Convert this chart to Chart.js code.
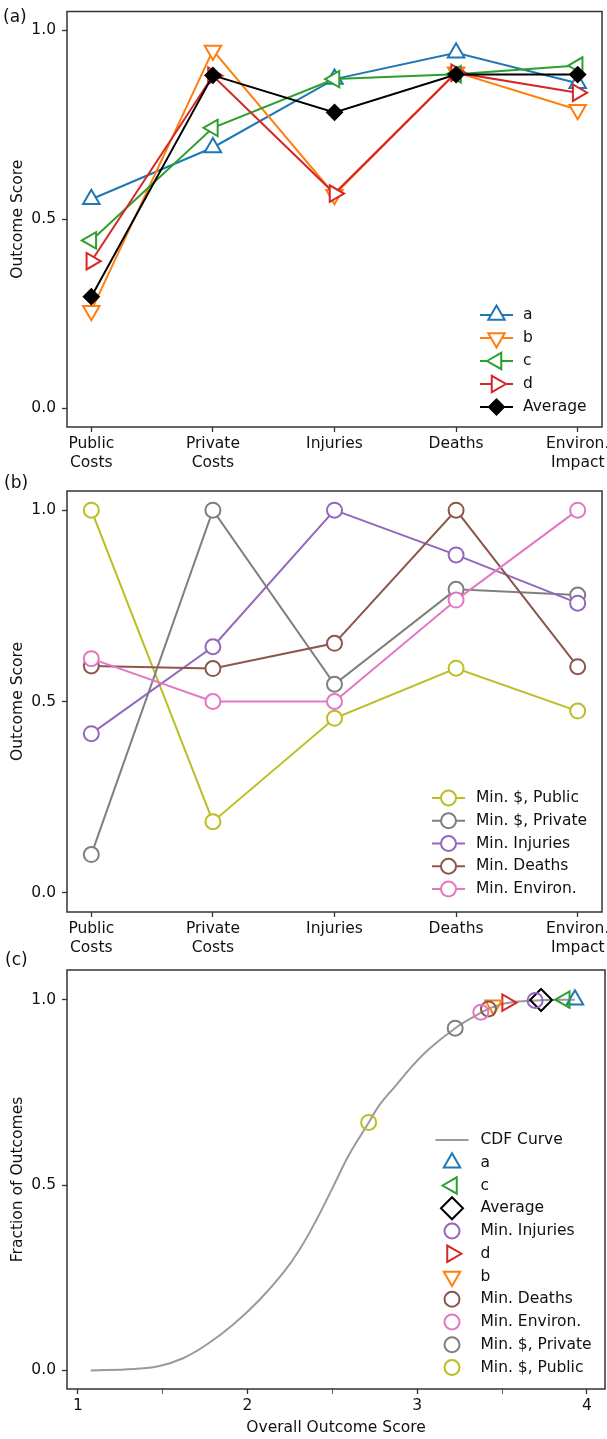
<!DOCTYPE html>
<html>
<head>
<meta charset="utf-8">
<script src="https://cdn.jsdelivr.net/npm/chart.js@4.4.1/dist/chart.umd.min.js"></script>
<style>
  body { margin: 0; background: #fff; }
  .page { position: relative; width: 607px; height: 1439px; overflow: hidden; background: #fff; }
  .page canvas { position: absolute; left: 0; }
  .panel-tag { position: absolute; font-family: "DejaVu Sans", sans-serif; font-size: 17px; line-height: 20px; color: #111; }
</style>
</head>
<body>
<div class="page">
  <canvas id="chartA" width="640" height="475" style="top:0px"></canvas>
  <canvas id="chartB" width="640" height="480" style="top:475px"></canvas>
  <canvas id="chartC" width="640" height="484" style="top:955px"></canvas>
  <div class="panel-tag" style="left:3px;top:6px">(a)</div>
  <div class="panel-tag" style="left:4px;top:472px">(b)</div>
  <div class="panel-tag" style="left:5px;top:949px">(c)</div>
</div>
<script>
// categories on the x axis of (a) and (b)
const categories = [['Public', 'Costs'], ['Private', 'Costs'], 'Injuries', 'Deaths', ['Environ.', 'Impact']];
const categoryTicks = [0, 1, 2, 3, 4];
const scoreTicks = [0, 0.5, 1];

// (a) scenario scores
const scoresA = [0.553, 0.690, 0.871, 0.941, 0.860];
const scoresB = [0.258, 0.947, 0.565, 0.889, 0.790];
const scoresC = [0.444, 0.742, 0.871, 0.884, 0.907];
const scoresD = [0.389, 0.880, 0.568, 0.888, 0.835];
const scoresAvg = [0.295, 0.881, 0.783, 0.883, 0.883];

// (b) optimised strategies
const minPublic = [1.0, 0.186, 0.456, 0.587, 0.475];
const minPrivate = [0.100, 1.0, 0.545, 0.793, 0.778];
const minInjuries = [0.416, 0.643, 1.0, 0.883, 0.757];
const minDeaths = [0.593, 0.586, 0.652, 1.0, 0.591];
const minEnviron = [0.612, 0.500, 0.500, 0.765, 1.0];

// (c) CDF curve
const cdfScore = [1.076, 1.33, 1.48, 1.62, 1.76, 1.916, 2.07, 2.21, 2.308, 2.406, 2.504, 2.60, 2.714, 2.776, 2.875, 2.973, 3.07, 3.224, 3.345, 3.42, 3.50, 3.62, 3.75, 3.93];
const cdfFraction = [0.0, 0.004, 0.012, 0.033, 0.070, 0.124, 0.190, 0.263, 0.327, 0.406, 0.495, 0.583, 0.668, 0.715, 0.769, 0.822, 0.867, 0.923, 0.957, 0.975, 0.988, 0.996, 0.999, 1.0];
// (c) strategies on the curve, legend order
const overallLabels = ['a', 'c', 'Average', 'Min. Injuries', 'd', 'b', 'Min. Deaths', 'Min. Environ.', 'Min. $, Private', 'Min. $, Public'];
const overallScore = [3.93, 3.87, 3.73, 3.695, 3.53, 3.45, 3.42, 3.375, 3.224, 2.714];
const overallFraction = [1.0, 1.0, 0.999, 0.998, 0.992, 0.985, 0.975, 0.966, 0.923, 0.669];
const overallTicks = [1, 1.5, 2, 2.5, 3, 3.5, 4];

const font = "'DejaVu Sans', sans-serif";
const fontSize = 15.5;
Chart.defaults.font.family = font;
Chart.defaults.font.size = fontSize;
Chart.defaults.color = '#111';
Chart.defaults.animation = false;
Chart.defaults.events = [];
Chart.defaults.plugins.legend.display = false;
Chart.defaults.plugins.tooltip.enabled = false;

const toPoints = function (values) {
  return values.map((v, i) => ({ x: i, y: v }));
};

// box round the plot area like matplotlib spines
const framePlugin = {
  id: 'frame',
  afterDatasetsDraw(chart) {
    const { ctx, chartArea } = chart;
    ctx.save();
    ctx.strokeStyle = '#333';
    ctx.lineWidth = 1.5;
    ctx.strokeRect(chartArea.left, chartArea.top, chartArea.right - chartArea.left, chartArea.bottom - chartArea.top);
    ctx.restore();
  }
};

// legend with line + marker handles
const markerLegend = {
  id: 'markerLegend',
  afterDraw(chart, args, opts) {
    if (!opts || opts.left === undefined) return;
    const ctx = chart.ctx;
    ctx.save();
    chart.data.datasets.forEach((ds, i) => {
      const y = opts.top + i * opts.rowHeight;
      const x0 = opts.left;
      const x1 = opts.left + opts.handleLength;
      if (ds.showLine) {
        ctx.strokeStyle = ds.borderColor;
        ctx.lineWidth = ds.borderWidth;
        ctx.beginPath();
        ctx.moveTo(x0, y);
        ctx.lineTo(x1, y);
        ctx.stroke();
      }
      if (ds.pointRadius > 0) {
        ctx.fillStyle = ds.pointBackgroundColor;
        ctx.strokeStyle = ds.pointBorderColor;
        ctx.lineWidth = ds.pointBorderWidth;
        Chart.helpers.drawPoint(ctx, {
          pointStyle: ds.pointStyle,
          rotation: ds.pointRotation || 0,
          radius: ds.pointRadius,
          borderWidth: ds.pointBorderWidth
        }, (x0 + x1) / 2, y);
      }
      ctx.fillStyle = '#111';
      ctx.font = fontSize + 'px ' + font;
      ctx.textBaseline = 'middle';
      ctx.textAlign = 'left';
      ctx.fillText(ds.label, x1 + opts.gap, y);
    });
    ctx.restore();
  }
};

const axisGrid = {
  drawOnChartArea: false,
  drawTicks: true,
  tickLength: 5,
  tickColor: '#333',
  tickWidth: 1.3
};

const lineSeries = function (label, values, color, style, rotation, radius, fill, order) {
  return {
    label: label,
    data: toPoints(values),
    showLine: true,
    borderColor: color,
    borderWidth: 2,
    pointStyle: style,
    pointRotation: rotation,
    pointRadius: radius,
    pointBorderWidth: 2,
    pointBorderColor: color,
    pointBackgroundColor: fill,
    order: order
  };
};

const scoreAxes = function (xHeight) {
  return {
    x: {
      type: 'linear',
      min: -0.2,
      max: 4.2,
      afterBuildTicks: (s) => { s.ticks = categoryTicks.map(v => ({ value: v })); },
      ticks: { callback: (v) => categories[v], autoSkip: false, maxRotation: 0, padding: 3 },
      grid: axisGrid,
      border: { display: false },
      afterFit: (s) => { s.height = xHeight; s.paddingLeft = 0; s.paddingRight = 0; }
    },
    y: {
      min: -0.05,
      max: 1.05,
      afterBuildTicks: (s) => { s.ticks = scoreTicks.map(v => ({ value: v })); },
      ticks: { callback: (v) => v.toFixed(1), padding: 6 },
      title: { display: true, text: 'Outcome Score', padding: { top: 9, bottom: 0 } },
      grid: axisGrid,
      border: { display: false },
      afterFit: (s) => { s.width = 67; s.paddingTop = 0; s.paddingBottom = 0; }
    }
  };
};

// (a)
new Chart(document.getElementById('chartA'), {
  type: 'scatter',
  data: {
    datasets: [
      lineSeries('a', scoresA, '#1f77b4', 'triangle', 0, 9.5, '#fff', 5),
      lineSeries('b', scoresB, '#ff7f0e', 'triangle', 180, 9.5, '#fff', 4),
      lineSeries('c', scoresC, '#2ca02c', 'triangle', 270, 9.5, '#fff', 3),
      lineSeries('d', scoresD, '#d62728', 'triangle', 90, 9.5, '#fff', 2),
      lineSeries('Average', scoresAvg, '#000', 'rectRot', 0, 7.5, '#000', 1)
    ]
  },
  options: {
    responsive: false,
    layout: { padding: { left: 0, right: 38, top: 5, bottom: 0 } },
    scales: scoreAxes(48),
    plugins: {
      markerLegend: { left: 480, top: 315, rowHeight: 23, handleLength: 33, gap: 10 }
    }
  },
  plugins: [framePlugin, markerLegend]
});

// (b)
new Chart(document.getElementById('chartB'), {
  type: 'scatter',
  data: {
    datasets: [
      lineSeries('Min. $, Public', minPublic, '#bcbd22', 'circle', 0, 7.5, '#fff', 5),
      lineSeries('Min. $, Private', minPrivate, '#7f7f7f', 'circle', 0, 7.5, '#fff', 4),
      lineSeries('Min. Injuries', minInjuries, '#9467bd', 'circle', 0, 7.5, '#fff', 3),
      lineSeries('Min. Deaths', minDeaths, '#8c564b', 'circle', 0, 7.5, '#fff', 2),
      lineSeries('Min. Environ.', minEnviron, '#e377c2', 'circle', 0, 7.5, '#fff', 1)
    ]
  },
  options: {
    responsive: false,
    layout: { padding: { left: 0, right: 38, top: 16, bottom: 0 } },
    scales: scoreAxes(43),
    plugins: {
      markerLegend: { left: 432, top: 323, rowHeight: 22.75, handleLength: 33, gap: 11 }
    }
  },
  plugins: [framePlugin, markerLegend]
});

// (c)
const overallStyles = [
  ['#1f77b4', 'triangle', 0, 9.5],
  ['#2ca02c', 'triangle', 270, 9.5],
  ['#000000', 'rectRot', 0, 11],
  ['#9467bd', 'circle', 0, 7.5],
  ['#d62728', 'triangle', 90, 9.5],
  ['#ff7f0e', 'triangle', 180, 9.5],
  ['#8c564b', 'circle', 0, 7.5],
  ['#e377c2', 'circle', 0, 7.5],
  ['#7f7f7f', 'circle', 0, 7.5],
  ['#bcbd22', 'circle', 0, 7.5]
];
const overallSets = overallLabels.map((label, i) => ({
  label: label,
  data: [{ x: overallScore[i], y: overallFraction[i] }],
  showLine: false,
  pointStyle: overallStyles[i][1],
  pointRotation: overallStyles[i][2],
  pointRadius: overallStyles[i][3],
  pointBorderWidth: 2,
  pointBorderColor: overallStyles[i][0],
  pointBackgroundColor: 'rgba(0,0,0,0)',
  order: overallLabels.length - i
}));

new Chart(document.getElementById('chartC'), {
  type: 'scatter',
  data: {
    datasets: [{
      label: 'CDF Curve',
      data: cdfScore.map((s, i) => ({ x: s, y: cdfFraction[i] })),
      showLine: true,
      borderColor: '#9a9a9a',
      borderWidth: 2,
      pointRadius: 0,
      tension: 0.4,
      order: 20
    }].concat(overallSets)
  },
  options: {
    responsive: false,
    layout: { padding: { left: 0, right: 35, top: 15, bottom: 0 } },
    scales: {
      x: {
        type: 'linear',
        min: 0.936,
        max: 4.107,
        afterBuildTicks: (s) => { s.ticks = overallTicks.map(v => ({ value: v })); },
        ticks: { callback: (v) => Number.isInteger(v) ? String(v) : '', autoSkip: false, maxRotation: 0, padding: 3 },
        title: { display: true, text: 'Overall Outcome Score', padding: { top: 0, bottom: 2 } },
        grid: Object.assign({}, axisGrid, { tickWidth: (c) => Number.isInteger(c.tick.value) ? 1.3 : 0.8 }),
        border: { display: false },
        afterFit: (s) => { s.height = 50; s.paddingLeft = 0; s.paddingRight = 0; }
      },
      y: {
        min: -0.05,
        max: 1.08,
        afterBuildTicks: (s) => { s.ticks = scoreTicks.map(v => ({ value: v })); },
        ticks: { callback: (v) => v.toFixed(1), padding: 6 },
        title: { display: true, text: 'Fraction of Outcomes', padding: { top: 9, bottom: 0 } },
        grid: axisGrid,
        border: { display: false },
        afterFit: (s) => { s.width = 67; s.paddingTop = 0; s.paddingBottom = 0; }
      }
    },
    plugins: {
      markerLegend: { left: 435.5, top: 185, rowHeight: 22.75, handleLength: 33, gap: 12 }
    }
  },
  plugins: [framePlugin, markerLegend]
});
</script>
</body>
</html>
